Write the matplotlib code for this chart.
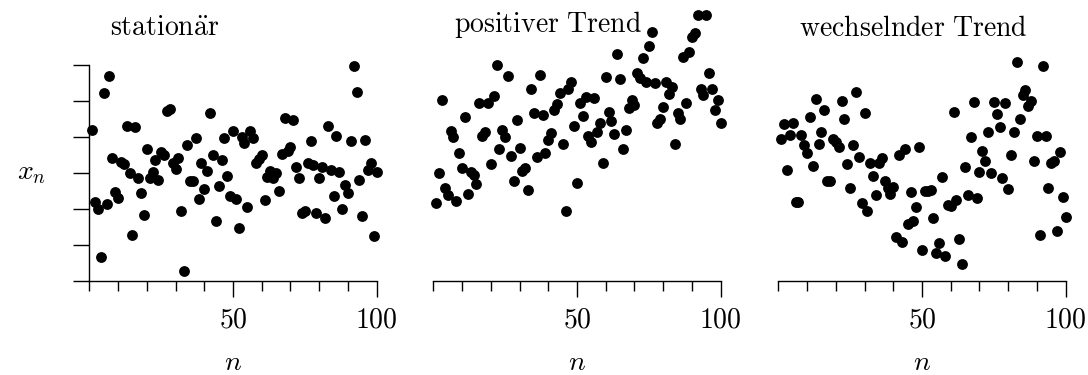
import numpy as np
import matplotlib
matplotlib.use('Agg')
import matplotlib.pyplot as plt
from matplotlib.ticker import FixedLocator, NullFormatter

plt.rcParams['mathtext.fontset'] = 'cm'
plt.rcParams['font.family'] = 'serif'
plt.rcParams['font.serif'] = ['cmr10', 'DejaVu Serif']
plt.rcParams['axes.formatter.use_mathtext'] = True

# data, n = 1..100
n = np.arange(1, 101)

stationaer = [
    1.19, -0.80, -0.98, -2.32, 2.22, -0.84, 2.70, 0.43, -0.51, -0.68,
    0.32, 0.26, 1.32, 0.02, -1.71, 1.29, -0.12, -0.55, -1.16, 0.68,
    -0.14, 0.03, 0.37, -0.19, 0.60, 0.51, 1.74, 1.78, 0.28, 0.13,
    0.43, -1.06, -2.71, 0.79, -0.21, -0.22, 0.97, -0.71, 0.29, -0.44,
    0.07, 1.67, 0.52, -1.32, -0.36, 0.36, 0.97, -0.08, -0.63, 1.18,
    -0.71, -1.51, 1.02, 0.85, -0.93, 1.18, 0.97, 0.28, 0.41, 0.50,
    -0.74, -0.11, 0.07, -0.14, 0.02, -0.48, 0.53, 1.53, 0.63, 0.72,
    1.49, 0.17, -0.14, -1.11, -1.04, 0.28, 0.91, 0.22, -1.11, -0.14,
    0.17, -1.25, 1.31, 0.10, -0.62, 1.03, 0.04, -0.99, -0.33, -0.56,
    0.89, 2.98, 2.26, -0.19, -1.19, 0.93, 0.09, 0.28, -1.74, 0.04,
]

positiv = [
    -0.83, 0.02, 2.04, -0.40, -0.60, 1.18, 1.02, -0.77, 0.56, 0.16,
    1.56, -0.57, 0.04, -0.05, -0.31, 1.96, 1.04, 1.16, 1.96, 0.26,
    2.15, 3.01, 0.67, 1.20, 1.02, 2.71, 0.48, -0.21, 1.48, 0.69,
    0.07, 0.16, -0.46, 2.34, 1.67, 0.46, 2.73, 1.62, 0.56, 0.93,
    1.11, 1.76, 1.92, 2.22, 0.81, -1.04, 2.33, 2.54, 1.31, -0.26,
    1.94, 1.59, 2.13, 1.04, 0.88, 2.10, 1.14, 1.41, 0.28, 2.67,
    1.69, 1.46, 1.09, 3.31, 2.61, 0.68, 1.20, 1.81, 2.04, 1.90,
    2.78, 2.64, 3.21, 2.54, 3.54, 3.92, 2.52, 1.41, 1.50, 1.83,
    2.54, 2.19, 2.39, 0.81, 1.68, 1.51, 3.22, 1.96, 3.36, 3.79,
    3.91, 4.40, 2.33, 2.18, 4.40, 2.79, 2.33, 1.76, 2.04, 1.39,
]

wechselnd = [
    0.95, 1.36, 0.09, 1.06, 1.41, -0.81, -0.81, 1.06, 0.79, 0.56,
    1.57, 0.21, 2.06, 0.81, 1.15, 1.75, -0.22, -0.22, 0.96, 0.88,
    0.74, 2.02, 1.51, 0.25, -0.40, 0.79, 2.25, 0.46, -0.83, 1.68,
    -1.05, 0.28, -0.08, -0.60, 0.28, 0.43, -0.21, -0.42, -0.58, -0.39,
    -1.76, 0.51, -1.92, 0.67, -1.40, -0.53, -1.33, -0.93, 0.72, -2.13,
    -0.49, -0.48, -0.46, -1.25, -2.22, -1.93, -0.09, -2.30, -0.88, -0.90,
    1.69, -0.74, -1.83, -2.52, 0.18, -0.60, 1.02, 1.97, -0.68, 0.04,
    0.62, 0.35, 1.14, 0.02, 1.98, 1.65, 1.29, -0.14, 1.94, -0.44,
    0.51, 1.16, 3.08, 1.50, 2.18, 2.31, 1.87, 2.01, 0.34, 1.04,
    -1.71, 2.99, 1.04, -0.40, 0.29, 0.34, -1.60, 0.60, -0.65, -1.21,
]

series = [stationaer, positiv, wechselnd]
titles = [r'$\mathrm{station\ddot{a}r}$', r'$\mathrm{positiver\ Trend}$',
          r'$\mathrm{wechselnder\ Trend}$']
title_base = [36, 32.5, 36]

W, H = 1088, 375
fig = plt.figure(figsize=(W / 100, H / 100), dpi=100)

px_per_n = 2.874
px_per_y = 36.0
x0_px = [89.3, 433.3, 778.3]
y0_px = 173.3
xlim = (-6, 104)
ylim = (-3, 4.7)

for i, (vals, title) in enumerate(zip(series, titles)):
    left = x0_px[i] + xlim[0] * px_per_n
    width = (xlim[1] - xlim[0]) * px_per_n
    bottom = y0_px - ylim[0] * px_per_y
    height = (ylim[1] - ylim[0]) * px_per_y
    ax = fig.add_axes([left / W, 1 - bottom / H, width / W, height / H])
    ax.set_xlim(*xlim)
    ax.set_ylim(*ylim)
    ax.patch.set_visible(False)

    ax.plot(n, vals, 'o', color='black', ms=7.8, mew=0)

    for s in ['top', 'right']:
        ax.spines[s].set_visible(False)
    ax.spines['bottom'].set_bounds(0, 100)
    ax.spines['bottom'].set_linewidth(1.0)

    ax.xaxis.set_major_locator(FixedLocator([50, 100]))
    ax.xaxis.set_minor_locator(FixedLocator([0, 10, 20, 30, 40, 60, 70, 80, 90]))
    ax.xaxis.set_minor_formatter(NullFormatter())
    ax.tick_params(axis='x', which='major', direction='out', length=11.5,
                   width=1.0, pad=7, labelsize=20)
    ax.tick_params(axis='x', which='minor', direction='out', length=7.5,
                   width=1.0)

    if i == 0:
        ax.spines['left'].set_position(('data', 0))
        ax.spines['left'].set_bounds(-3, 3)
        ax.spines['left'].set_linewidth(1.0)
        ax.set_yticks(np.arange(-3, 4))
        ax.set_yticklabels([])
        ax.tick_params(axis='y', direction='out', length=11.5, width=1.0)
    else:
        ax.spines['left'].set_visible(False)
        ax.set_yticks([])

    # title and axis label in figure pixels
    fig.text((x0_px[i] + 21) / W, 1 - title_base[i] / H, title,
             fontsize=20, ha='left', va='baseline')
    fig.text((x0_px[i] + 50 * px_per_n) / W, 1 - 370 / H, r'$n$',
             fontsize=20, ha='center', va='baseline')

fig.text(32 / W, 1 - 173 / H, r'$x_n$', fontsize=20, ha='center', va='center')

fig.savefig('out.png', dpi=100)
